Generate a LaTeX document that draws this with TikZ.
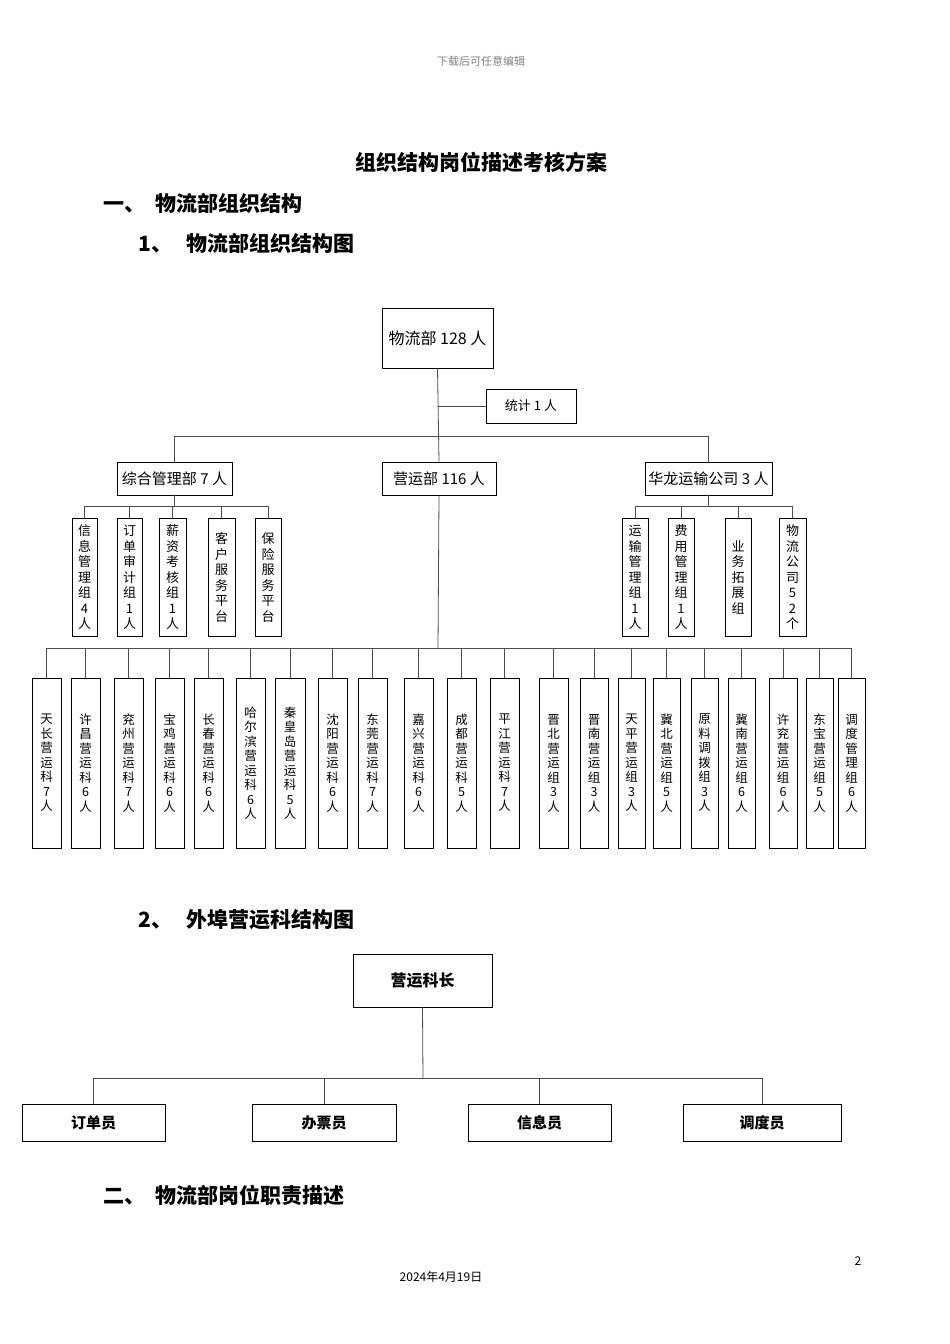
\documentclass[tikz,border=0pt]{standalone}
\usepackage{fontspec}
\setmainfont{Noto Sans CJK SC}
\makeatletter
\def\vtloop#1{\ifx#1\relax\else#1\par\expandafter\vtloop\fi}
\newcommand\vt[1]{\expandafter\vtloop#1\relax}
\makeatother
\begin{document}
\begin{tikzpicture}[x=1pt,y=-1pt,
  bx/.style={draw,thick,inner sep=0pt,font=\fontsize{13}{15}\selectfont},
  ln/.style={draw,thick,gray!60!black},
  head/.style={anchor=west,font=\fontsize{21}{24}\selectfont\bfseries}]
\useasboundingbox (0,0) rectangle (950,1344);
\node[font=\fontsize{11}{13}\selectfont,gray] (hd) at (481,61) {下载后可任意编辑};
\node[font=\fontsize{21}{24}\selectfont\bfseries] (tt) at (481,162) {组织结构岗位描述考核方案};
\node[head] (h1) at (100,203) {一、\ \ 物流部组织结构};
\node[head] (h2) at (135,243) {1、\ \ \ 物流部组织结构图};
\node[head] (h3) at (135,920) {2、\ \ \ 外埠营运科结构图};
\node[head] (h4) at (100,1195) {二、\ \ 物流部岗位职责描述};
\node[font=\fontsize{12}{14}\selectfont] (pn) at (858,1261) {2};
\node[font=\fontsize{12}{14}\selectfont] (dt) at (441,1277) {2024年4月19日};
% top
\node[bx,minimum width=111,minimum height=60,font=\fontsize{16}{18}\selectfont] (top) at (437.5,338) {物流部 128 人};
\node[bx,minimum width=90,minimum height=34] (tj) at (531,406) {统计 1 人};
\node[bx,minimum width=115,minimum height=33,font=\fontsize{15}{17}\selectfont] (zh) at (174.5,478.5) {综合管理部 7 人};
\node[bx,minimum width=114,minimum height=33,font=\fontsize{15}{17}\selectfont] (yy) at (439,478.5) {营运部 116 人};
\node[bx,minimum width=127,minimum height=33,font=\fontsize{15}{17}\selectfont] (hl) at (708.5,478.5) {华龙运输公司 3 人};
\coordinate (j1) at (438,406);
\draw[ln] (top.south) -- (yy.north);
\draw[ln] (j1) -- (tj.west);
\draw[ln] (zh.north) -- ++(0,-25) -| (hl.north);
% left subs
\foreach \n/\x/\w/\t in {l1/84.5/25/信息管理组4人,l2/129.5/25/订单审计组1人,l3/172.5/27/薪资考核组1人,l4/221.5/27/客户服务平台,l5/268/26/保险服务平台}{
  \node[bx,minimum width=\w,minimum height=118,anchor=north,text width=14,align=center,font=\fontsize{13}{15.5}\selectfont] (\n) at (\x,518) {\vt{\t}};
  \draw[ln] (zh.south) -- (174.5,506) -| (\n.north);
}
\foreach \n/\x/\w/\t in {r1/635/26/运输管理组1人,r2/681/26/费用管理组1人,r3/738/26/业务拓展组,r4/792.5/27/物流公司52个}{
  \node[bx,minimum width=\w,minimum height=118,anchor=north,text width=14,align=center,font=\fontsize{13}{15.5}\selectfont] (\n) at (\x,518) {\vt{\t}};
  \draw[ln] (hl.south) -- (708.5,506) -| (\n.north);
}
% bottom row
\coordinate (bj) at (438,648);
\draw[ln] (yy.south) -- (bj);
\foreach \n/\a/\b/\t in {b1/32/61/天长营运科7人,b2/71/100/许昌营运科6人,b3/114/143/兖州营运科7人,b4/155/184/宝鸡营运科6人,b5/194/223/长春营运科6人,b6/236/265/哈尔滨营运科6人,b7/275/305/秦皇岛营运科5人,b8/318/347/沈阳营运科6人,b9/358/387/东莞营运科7人,b10/404/433/嘉兴营运科6人,b11/447/476/成都营运科5人,b12/490/519/平江营运科7人,b13/539/568/晋北营运组3人,b14/580/608/晋南营运组3人,b15/618/645/天平营运组3人,b16/653/680/冀北营运组5人,b17/691/718/原料调拨组3人,b18/728/755/冀南营运组6人,b19/769/797/许兖营运组6人,b20/806/833/东宝营运组5人,b21/838/865/调度管理组6人}{
  \pgfmathsetmacro\cx{(\a+\b)/2}\pgfmathsetmacro\bw{\b-\a}
  \node[bx,minimum width=\bw,minimum height=170,text width=14,align=center,font=\fontsize{12.5}{14.5}\selectfont] (\n) at (\cx,763) {\vt{\t}};
  \draw[ln] (bj) -| (\n.north);
}
% section 2
\node[bx,minimum width=139,minimum height=53,font=\fontsize{16}{18}\selectfont\bfseries] (kz) at (422.5,980.5) {营运科长};
\foreach \n/\a/\b/\t in {s1/22/165/订单员,s2/252/396/办票员,s3/468/611/信息员,s4/683/841/调度员}{
  \pgfmathsetmacro\cx{(\a+\b)/2}\pgfmathsetmacro\bw{\b-\a}
  \node[bx,minimum width=\bw,minimum height=37,font=\fontsize{15}{17}\selectfont\bfseries] (\n) at (\cx,1122.5) {\t};
}
\draw[ln] (kz.south) -- (423,1079);
\draw[ln] (s1.north) -- ++(0,-25) -| (s4.north);
\draw[ln] (s2.north) -- ++(0,-25);
\draw[ln] (s3.north) -- ++(0,-25);
\end{tikzpicture}
\end{document}
